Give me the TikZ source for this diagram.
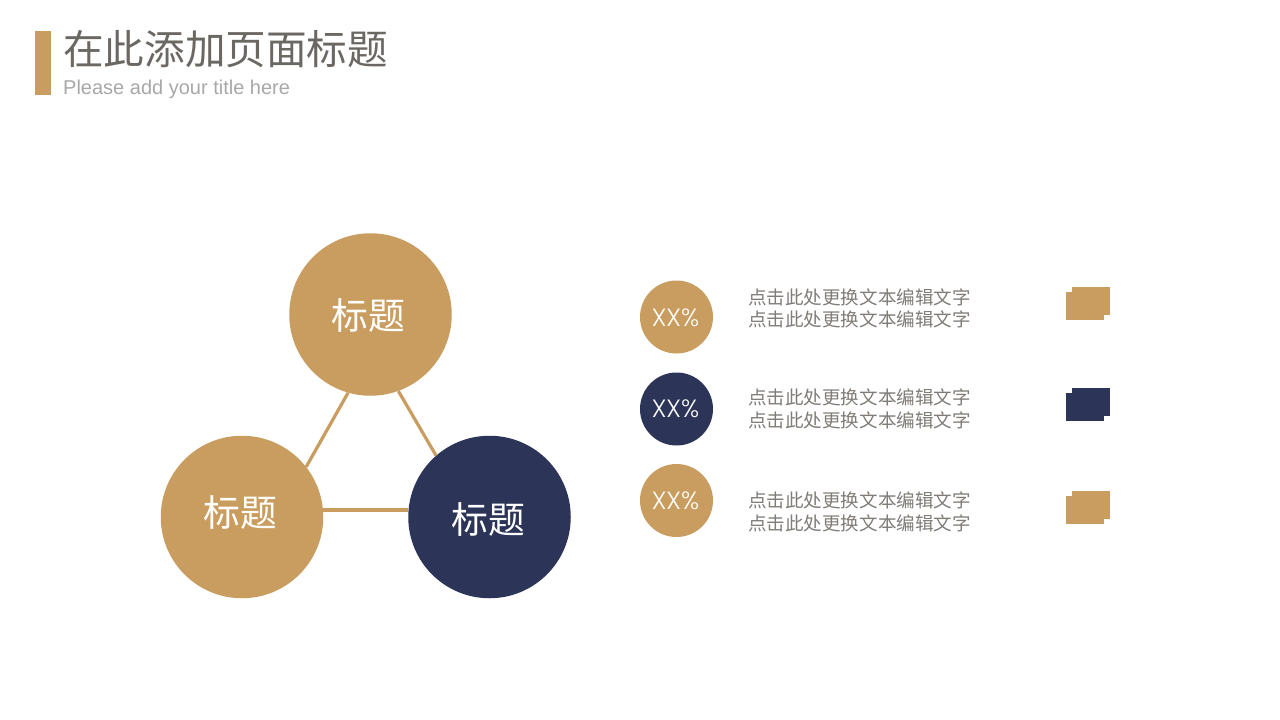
\documentclass[tikz,border=0pt]{standalone}
\usepackage{fontspec}
\setmainfont{Open Sans}
\newfontfamily\cjk{Noto Sans CJK SC}
\newfontfamily\lat{Liberation Sans}
\newfontfamily\latlight{Poppins Light}
\definecolor{gold}{HTML}{C99D5F}
\definecolor{navy}{HTML}{2C3558}
\definecolor{titlegray}{HTML}{6B6763}
\definecolor{subgray}{HTML}{A8A8A8}
\definecolor{bodygray}{HTML}{807C78}
\tikzset{
  bigc/.style={circle,inner sep=0pt,minimum size=162.5pt},
  smallc/.style={circle,inner sep=0pt,minimum size=73pt},
  biglabel/.style={text=white,inner sep=0pt,font=\cjk\fontsize{36.8}{36.8}\selectfont},
  pct/.style={text=white,inner sep=0pt,font=\latlight\fontsize{25}{25}\selectfont},
  bodyline/.style={text=bodygray,inner sep=0pt,anchor=west,font=\cjk\fontsize{18.55}{18.55}\selectfont},
  link/.style={draw=gold,line width=3.2pt},
}
\begin{document}
\begin{tikzpicture}[x=1pt,y=-1pt]
\useasboundingbox (0,0) rectangle (1280,720);
\fill[white] (0,0) rectangle (1280,720);
% header
\fill[gold] (35,31) rectangle (51,95);
\node[anchor=west,inner sep=0pt,text=titlegray,font=\cjk\fontsize{40.6}{40.6}\selectfont] (title) at (63,49) {在此添加页面标题};
\node[anchor=west,inner sep=0pt,text=subgray,font=\lat\fontsize{20}{20}\selectfont] (sub) at (63,89) {Please add your title here};
% big circles
\node[bigc,fill=gold] (top) at (370.5,314.5) {};
\node[bigc,fill=gold] (left) at (242,517) {};
\node[bigc,fill=navy] (right) at (489.5,517) {};
% connectors run between points on the circles' rims, off their centres
\draw[link] (top.254.3) -- (left.38.5);
\draw[link] (top.-70.3) -- (right.131.4);
\draw[link] (left.5.5) -- (left.5.5 -| right.west);
\node[biglabel] at (368,315) {标题};
\node[biglabel] at (240,512) {标题};
\node[biglabel] at (488,519) {标题};
% small circles
\node[smallc,fill=gold] (s1) at (676.5,317) {};
\node[smallc,fill=navy] (s2) at (676.5,409) {};
\node[smallc,fill=gold] (s3) at (676.5,500.5) {};
\node[pct] at (675.5,318) {XX\%};
\node[pct] at (675.5,409) {XX\%};
\node[pct] at (675.5,501) {XX\%};
% body text
\node[bodyline] (a1) at (748,297) {点击此处更换文本编辑文字};
\node[bodyline] (a2) at (748,319) {点击此处更换文本编辑文字};
\node[bodyline] (b1) at (748,397.5) {点击此处更换文本编辑文字};
\node[bodyline] (b2) at (748,420.5) {点击此处更换文本编辑文字};
\node[bodyline] (c1) at (748,500.5) {点击此处更换文本编辑文字};
\node[bodyline] (c2) at (748,523.5) {点击此处更换文本编辑文字};
% small overlapped blocks
\fill[gold] (1072,287) rectangle (1110,315);
\fill[gold] (1066,292) rectangle (1104,320);
\fill[navy] (1072,388) rectangle (1110,416);
\fill[navy] (1066,393) rectangle (1104,421);
\fill[gold] (1072,491) rectangle (1110,519);
\fill[gold] (1066,496) rectangle (1104,524);
\end{tikzpicture}
\end{document}
